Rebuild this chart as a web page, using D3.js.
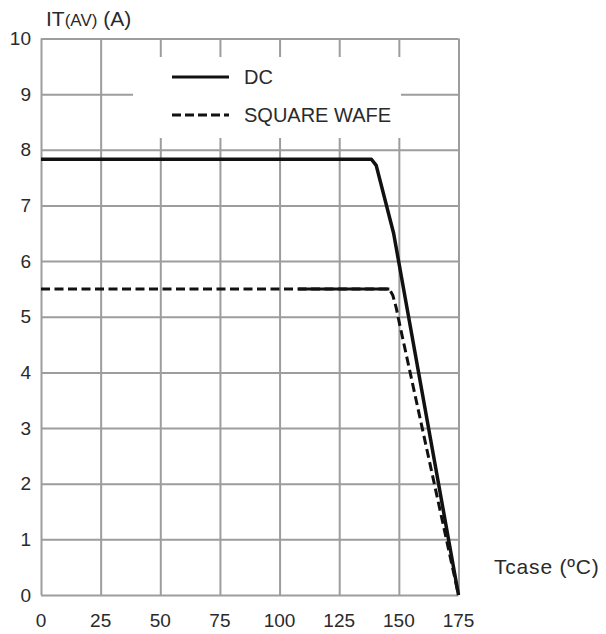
<!DOCTYPE html>
<html>
<head>
<meta charset="utf-8">
<script src="https://cdn.jsdelivr.net/npm/d3@7"></script>
<style>
  body { margin: 0; background: #fff; }
  text { font-family: "Liberation Sans", Arial, sans-serif; fill: #2a2a2a; }
</style>
</head>
<body>
<div id="chart-area"></div>
<script>
/*
*    derating curve
*/

// tick values
var xTicks = [0, 25, 50, 75, 100, 125, 150, 175];
var yTicks = [0, 1, 2, 3, 4, 5, 6, 7, 8, 9, 10];

// DC curve (Tcase, IT(AV))
var dcT = [0, 138.5, 140.5, 147.8, 175];
var dcI = [7.83, 7.83, 7.72, 6.5, 0];

// square wave curve
var sqT = [0, 146, 147.5, 148.9, 149.9, 175];
var sqI = [5.5, 5.5, 5.38, 5.16, 4.95, 0];
// part of the flat square wave trace that prints solid
var sqSolidT = [107.8, 146];

var legendNames = ["DC", "SQUARE WAFE"];

var margin = {left: 41, top: 38.5};
var width = 417.5, height = 556.5;

var svg = d3.select("#chart-area").append("svg")
    .attr("width", 606)
    .attr("height", 634);

var g = svg.append("g")
    .attr("transform", "translate(" + margin.left + "," + margin.top + ")");

var x = d3.scaleLinear()
    .domain([0, 175])
    .range([0, width]);

var y = d3.scaleLinear()
    .domain([0, 10])
    .range([height, 0]);

// grid lines
var gridColor = "#9d9d9d";

var xGrid = g.append("g")
    .attr("transform", "translate(0," + height + ")")
    .call(d3.axisBottom(x).tickValues(xTicks).tickSize(-height).tickFormat(""));
var yGrid = g.append("g")
    .call(d3.axisLeft(y).tickValues(yTicks).tickSize(-width).tickFormat(""));
[xGrid, yGrid].forEach((a)=>{
    a.select(".domain").remove();
    a.selectAll("line").attr("stroke", gridColor).attr("stroke-width", 2);
});

// tick labels
g.append("g").selectAll("text")
    .data(xTicks)
    .enter().append("text")
        .attr("x", (d)=>{return x(d);})
        .attr("y", height + 25)
        .attr("dy", "0.35em")
        .attr("text-anchor", "middle")
        .style("font-size", "19px")
        .text((d)=>{return d;});

g.append("g").selectAll("text")
    .data(yTicks)
    .enter().append("text")
        .attr("x", -10)
        .attr("y", (d)=>{return y(d);})
        .attr("dy", "0.35em")
        .attr("text-anchor", "end")
        .style("font-size", "19px")
        .text((d)=>{return d;});

// axis titles
var yTitle = svg.append("text")
    .attr("x", 46)
    .attr("y", 26)
    .style("font-size", "21px");
yTitle.append("tspan").text("IT");
yTitle.append("tspan").style("font-size", "17px").text("(AV)");
yTitle.append("tspan").text(" (A)");

svg.append("text")
    .attr("x", 494)
    .attr("y", 567)
    .attr("dy", "0.35em")
    .style("font-size", "21px")
    .style("letter-spacing", "0.8px")
    .text("Tcase (\u00BAC)");

// legend box (covers the grid)
var legend = g.append("g");
legend.append("rect")
    .attr("x", 92)
    .attr("y", 18.5)
    .attr("width", 268)
    .attr("height", 81)
    .attr("fill", "#fff");

var legendDash = [null, "9,4"];
legendNames.forEach((name, i)=>{
    var ly = 38.5 + i * 38;
    legend.append("line")
        .attr("x1", 131).attr("x2", 188)
        .attr("y1", ly).attr("y2", ly)
        .attr("stroke", "#111")
        .attr("stroke-width", 3)
        .attr("stroke-dasharray", legendDash[i]);
    legend.append("text")
        .attr("x", 203)
        .attr("y", ly)
        .attr("dy", "0.35em")
        .style("font-size", "20px")
        .text(name);
});

// curves
var line = d3.line()
    .x((d)=>{return x(d[0]);})
    .y((d)=>{return y(d[1]);});

var dc = dcT.map((t, i)=>{return [t, dcI[i]];});
var sq = sqT.map((t, i)=>{return [t, sqI[i]];});

g.append("path")
    .datum(sq)
    .attr("d", line)
    .attr("fill", "none")
    .attr("stroke", "#111")
    .attr("stroke-width", 3)
    .attr("stroke-dasharray", "9,4.5");

g.append("path")
    .datum(sqSolidT.map((t)=>{return [t, sqI[0]];}))
    .attr("d", line)
    .attr("fill", "none")
    .attr("stroke", "#111")
    .attr("stroke-width", 3);

g.append("path")
    .datum(dc)
    .attr("d", line)
    .attr("fill", "none")
    .attr("stroke", "#111")
    .attr("stroke-width", 3.5)
    .attr("stroke-linejoin", "round");
</script>
</body>
</html>
